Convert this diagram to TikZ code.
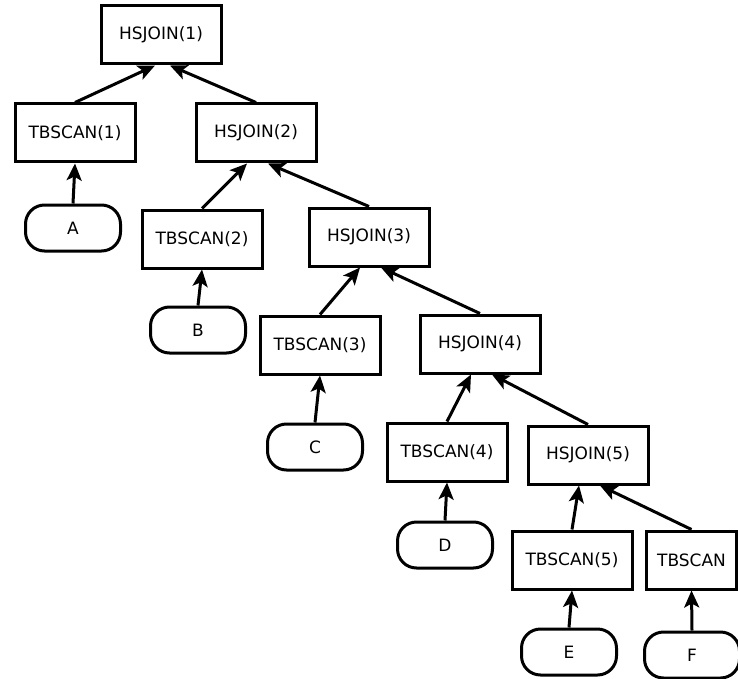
\documentclass[tikz,border=0pt]{standalone}
\usepackage{fontspec}
\setmainfont{DejaVu Sans}
\usepackage{tikz}
\usetikzlibrary{positioning, arrows.meta}

\begin{document}
\begin{tikzpicture}[x=1pt, y=1pt,
    op/.style={draw, rectangle, line width=3pt, minimum width=120pt,
               minimum height=58pt, align=center, font=\fontsize{17}{19}\selectfont},
    leaf/.style={draw, rectangle, rounded corners=19pt, line width=3pt,
                 minimum width=95pt, minimum height=46pt, font=\fontsize{17}{19}\selectfont},
    arrow/.style={-{Stealth[length=17pt, width=15pt, inset=4pt]}, line width=3pt}
]
\useasboundingbox (0,0) rectangle (738,-679);

% operator nodes
\node[op] (hj1) at (161,-35) {HSJOIN(1)};
\node[op] (tb1) at (75,-133) {TBSCAN(1)};
\node[op] (hj2) at (256,-133) {HSJOIN(2)};
\node[op] (tb2) at (202,-239) {TBSCAN(2)};
\node[op] (hj3) at (369,-237) {HSJOIN(3)};
\node[op] (tb3) at (320,-345) {TBSCAN(3)};
\node[op] (hj4) at (480,-344) {HSJOIN(4)};
\node[op] (tb4) at (447,-452) {TBSCAN(4)};
\node[op] (hj5) at (588,-455) {HSJOIN(5)};
\node[op] (tb5) at (572,-560) {TBSCAN(5)};
\node[op, minimum width=90pt] (tb6) at (691.5,-560) {TBSCAN};

% tables
\node[leaf] (ta) at (73,-228) {A};
\node[leaf] (tbb) at (198,-330) {B};
\node[leaf] (tc) at (315,-447) {C};
\node[leaf] (td) at (445,-545) {D};
\node[leaf] (te) at (569,-652) {E};
\node[leaf] (tf) at (692,-655) {F};

% joins
\draw[arrow] (tb1.north) -- ([xshift=-6pt]hj1.south);
\draw[arrow] (hj2.north) -- ([xshift=9pt]hj1.south);
\draw[arrow] (tb2.north) -- ([xshift=-9pt]hj2.south);
\draw[arrow] (hj3.north) -- ([xshift=12pt]hj2.south);
\draw[arrow] (tb3.north) -- ([xshift=-9pt]hj3.south);
\draw[arrow] (hj4.north) -- ([xshift=12pt]hj3.south);
\draw[arrow] (tb4.north) -- ([xshift=-9pt]hj4.south);
\draw[arrow] (hj5.north) -- ([xshift=12pt]hj4.south);
\draw[arrow] (tb5.north) -- ([xshift=-9pt]hj5.south);
\draw[arrow] (tb6.north) -- ([xshift=12pt]hj5.south);

% scans
\draw[arrow] (ta.north) -- (tb1.south);
\draw[arrow] (tbb.north) -- (tb2.south);
\draw[arrow] (tc.north) -- (tb3.south);
\draw[arrow] (td.north) -- (tb4.south);
\draw[arrow] (te.north) -- (tb5.south);
\draw[arrow] (tf.north) -- (tb6.south);

\end{tikzpicture}
\end{document}
